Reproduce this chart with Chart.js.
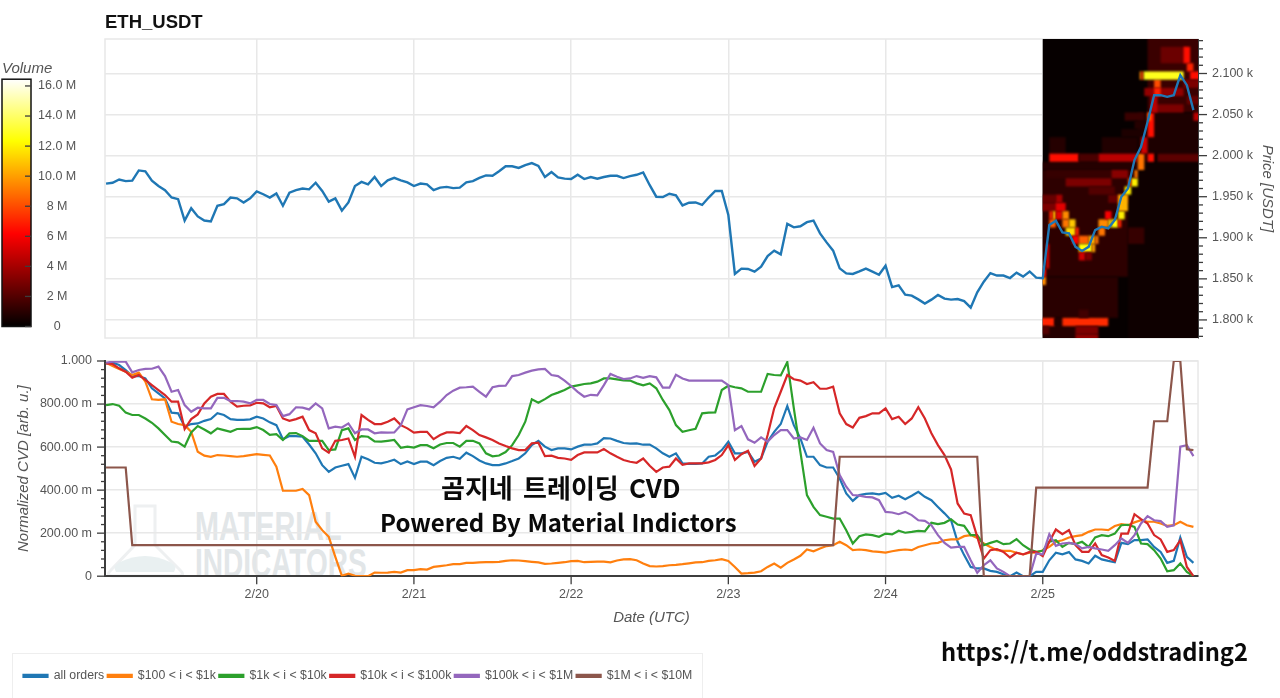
<!DOCTYPE html>
<html lang="ko"><head><meta charset="utf-8">
<style>
html,body{margin:0;padding:0;background:#fff;width:1280px;height:698px;overflow:hidden}
canvas{position:absolute;background:transparent}
.t{position:absolute;white-space:nowrap;font-family:"Noto Sans CJK KR","Noto Sans",sans-serif;font-weight:700;color:#0a0a0a;line-height:1}
.wm{position:absolute;white-space:nowrap;font-family:"Liberation Sans",sans-serif;font-weight:700;color:#e2e6e8;line-height:1;font-size:40px;transform-origin:0 0}
#legendBox{position:absolute;left:12px;top:653px;width:689px;height:60px;border:1px solid #eee;background:#fff}
</style>
<script src="https://cdn.jsdelivr.net/npm/chart.js@4/dist/chart.umd.min.js"></script>
</head><body>
<div id="legendBox"></div>
<svg style="position:absolute;left:0;top:350px" width="200" height="240">
  <path d="M135 156 L155 156 L155 195 L180 220 Q186 226 178 226 L113 226 Q105 226 111 220 L135 195 Z" fill="none" stroke="#eef0f1" stroke-width="3"/>
  <path d="M116 222 Q112 216 120 212 Q145 200 170 212 Q178 216 174 222 Z" fill="#e9f0f1"/>
</svg>
<div class="wm" style="left:195px;top:506px;transform:scaleX(.72)">MATERIAL</div>
<div class="wm" style="left:195px;top:543px;transform:scaleX(.7)">INDICATORS</div>
<canvas id="priceChart" width="1280" height="350" style="left:0;top:0"></canvas>
<canvas id="cvdChart" width="1280" height="348" style="left:0;top:350px"></canvas>
<canvas id="barChart" width="100" height="280" style="left:0;top:58px"></canvas>
<div class="t" style="left:441px;top:474px;font-size:26px;word-spacing:3px">곰지네 트레이딩 CVD</div>
<div class="t" style="left:380px;top:510px;font-size:24px">Powered By Material Indictors</div>
<div class="t" style="left:941px;top:640px;font-size:23.7px">https://t.me/oddstrading2</div>
<script>
const title = 'ETH_USDT';
const firstHour = -23; // hours relative to 2/20 00:00 UTC, one sample per hour
const dateTicks = [0,24,48,72,96,120];
const dateLabels = ['2/20','2/21','2/22','2/23','2/24','2/25'];
const priceTicks = [1800,1850,1900,1950,2000,2050,2100];
const priceLabels = ['1.800 k','1.850 k','1.900 k','1.950 k','2.000 k','2.050 k','2.100 k'];
const cvdTicks = [0,0.2,0.4,0.6,0.8,1];
const cvdLabels = ['0','200.00 m','400.00 m','600.00 m','800.00 m','1.000'];
const volumeTicks = [0,2,4,6,8,10,12,14,16];
const volumeLabels = ['0','2 M','4 M','6 M','8 M','10.0 M','12.0 M','14.0 M','16.0 M'];

const price = [
1966,1967,1971,1969,1969.5,1982,1981,1969.5,1963,1958,
1949,1947,1921,1936,1926,1921,1920,1939,1941,1949,
1948,1943,1948,1956.5,1953,1949,1954,1939,1955,1958,
1960,1959,1967,1957,1944,1948,1933,1943,1963,1968,
1965,1974,1963,1970,1973,1970,1967.5,1963,1966,1965,
1958,1961,1962,1960.5,1961,1967.5,1969,1973,1976,1975.5,
1981,1987,1987,1985,1988.5,1991,1987.5,1974,1980,1973.5,
1972,1971.5,1976.7,1971.5,1974,1972,1974,1975.5,1975.5,1972.7,
1975,1976.7,1979.6,1964,1950,1949.6,1953.6,1951.6,1939.4,1942.7,
1943,1940,1949,1957,1957,1927.7,1856,1862.4,1862,1858.8,
1864.8,1877.8,1884.3,1879.8,1917,1912.7,1914,1919,1921,1905.4,
1894.4,1884.3,1862.8,1856.7,1856,1859,1862.4,1858.8,1855,1866,
1840,1842,1830.8,1829.6,1825,1820,1824.7,1830.4,1826,1824.7,
1825.5,1823,1815,1833.6,1846.6,1857,1854,1854,1851,1857.6,
1852.7,1859,1851.5,1850.7,1915.5,1920.8,1906.6,1905.4,1889,1884,
1889,1909.4,1913.5,1911.5,1921.6,1950,1960,1994.6,2010.8,2041,
2073.6,2073.6,2071.6,2073.6,2098,2085.8,2055.4];

const allOrders = [
.989,.992,.981,.958,.930,.930,.919,.873,.850,.826,
.760,.757,.695,.707,.710,.722,.730,.757,.749,.730,
.726,.726,.729,.741,.733,.715,.702,.636,.651,.651,
.648,.612,.571,.516,.485,.505,.513,.521,.457,.555,
.543,.527,.524,.532,.541,.521,.533,.521,.532,.532,
.516,.535,.550,.555,.546,.574,.558,.538,.524,.516,
.516,.524,.535,.547,.571,.609,.629,.602,.586,.594,
.594,.589,.602,.611,.611,.617,.642,.640,.629,.619,
.616,.617,.611,.612,.594,.571,.555,.571,.524,.522,
.522,.524,.555,.561,.586,.625,.571,.571,.578,.532,
.547,.625,.671,.707,.791,.702,.640,.555,.555,.516,
.505,.505,.454,.385,.350,.377,.383,.385,.380,.387,
.364,.374,.358,.374,.392,.369,.353,.322,.292,.260,
.160,.098,.043,.036,.036,.025,.020,.009,0,.017,
0,0,.020,.020,.074,.109,.102,.112,.078,.071,
.059,.095,.078,.071,.065,.155,.149,.168,.168,.171,
.136,.113,.062,.071,.180,.090,.062];

const orders100to1k = [
.992,.977,.963,.950,.935,.946,.904,.822,.819,.822,
.718,.707,.702,.671,.578,.560,.555,.563,.561,.558,
.555,.558,.563,.567,.564,.561,.509,.397,.397,.397,
.405,.377,.253,.214,.183,.090,.002,.012,.002,0,
0,.017,.016,.017,.020,.017,.028,.028,.033,.031,
.043,.047,.051,.056,.056,.062,.062,.064,.065,.065,
.067,.071,.074,.073,.070,.067,.064,.057,.059,.062,
.065,.070,.071,.065,.067,.068,.068,.064,.073,.078,
.079,.074,.059,.047,.045,.047,.051,.053,.056,.060,
.064,.065,.071,.074,.079,.071,.043,.012,.014,.017,
.023,.043,.059,.040,.062,.078,.095,.124,.116,.129,
.140,.144,.160,.144,.121,.124,.121,.115,.113,.110,
.116,.121,.124,.121,.136,.144,.152,.155,.167,.171,
.171,.186,.191,.178,.152,.136,.121,.118,.118,.109,
.102,.109,.109,.121,.136,.160,.167,.180,.186,.191,
.206,.217,.217,.214,.233,.242,.237,.250,.260,.253,
.253,.245,.234,.237,.253,.237,.229];

const orders1kto10k = [
.795,.800,.792,.760,.749,.749,.733,.713,.687,.656,
.626,.622,.602,.668,.698,.682,.664,.687,.679,.671,
.684,.685,.685,.693,.679,.657,.660,.633,.664,.665,
.651,.629,.629,.629,.586,.589,.679,.687,.633,.651,
.648,.626,.625,.629,.633,.597,.602,.598,.609,.609,
.595,.612,.619,.619,.602,.629,.629,.617,.571,.557,
.561,.577,.609,.656,.718,.822,.806,.823,.842,.853,
.865,.881,.887,.893,.896,.904,.919,.919,.915,.910,
.909,.896,.887,.896,.873,.819,.772,.702,.671,.678,
.685,.757,.760,.761,.865,.885,.878,.873,.857,.857,
.857,.940,.935,.933,.995,.780,.578,.377,.322,.284,
.276,.268,.268,.214,.152,.186,.194,.191,.183,.198,
.194,.211,.202,.206,.211,.208,.248,.242,.248,.264,
.240,.234,.191,.191,.144,.155,.164,.149,.152,.172,
.144,.124,.113,.118,.160,.167,.136,.155,.149,.160,
.136,.180,.191,.186,.198,.237,.239,.229,.152,.149,
.121,.082,.023,.028,.059,.020,0];

const orders10kto100k = [
.989,.986,.966,.950,.922,.935,.912,.888,.865,.842,
.811,.811,.684,.730,.752,.803,.834,.847,.847,.811,
.788,.792,.794,.806,.803,.785,.791,.733,.722,.730,
.741,.679,.664,.594,.574,.629,.633,.640,.555,.749,
.726,.707,.707,.718,.733,.702,.687,.667,.671,.671,
.637,.656,.668,.668,.665,.698,.679,.656,.645,.633,
.617,.605,.594,.586,.586,.617,.620,.558,.560,.550,
.547,.541,.563,.575,.575,.575,.591,.571,.555,.540,
.532,.527,.547,.513,.485,.505,.509,.547,.518,.524,
.524,.524,.529,.540,.563,.609,.540,.567,.583,.512,
.547,.656,.780,.857,.935,.915,.909,.893,.901,.871,
.871,.881,.757,.707,.691,.736,.744,.757,.757,.780,
.730,.741,.707,.733,.785,.733,.664,.609,.563,.496,
.338,.291,.284,.183,.082,.121,.126,.113,.087,.109,
.101,.113,.113,.093,.160,.217,.195,.214,.144,.113,
.113,.152,.098,.087,.071,.198,.198,.288,.265,.245,
.191,.171,.113,.121,.167,.043,0];

const orders100kto1M = [
.992,.997,.997,.997,.947,.958,.963,.964,.974,.930,
.857,.865,.795,.764,.783,.780,.780,.829,.829,.814,
.814,.811,.803,.819,.819,.800,.795,.744,.753,.785,
.783,.775,.803,.780,.687,.695,.691,.710,.664,.682,
.682,.664,.668,.667,.668,.702,.775,.785,.795,.791,
.785,.811,.842,.862,.876,.878,.881,.857,.834,.878,
.884,.885,.930,.935,.946,.955,.961,.963,.935,.930,
.909,.884,.857,.834,.843,.840,.888,.940,.927,.916,
.919,.930,.922,.930,.924,.876,.876,.936,.919,.909,
.909,.909,.909,.909,.909,.888,.679,.698,.636,.620,
.645,.625,.656,.679,.679,.640,.645,.633,.690,.617,
.586,.578,.470,.416,.377,.374,.369,.366,.353,.299,
.296,.288,.299,.284,.260,.257,.237,.191,.155,.133,
.136,.136,.074,.016,.051,.074,.036,.020,0,0,
0,0,.105,.102,.195,.141,.152,.155,.149,.129,
.136,.129,.124,.118,.144,.175,.155,.191,.245,.279,
.260,.256,.229,.236,.602,.609,.558];

const orders1Mto10M = [
.505,.505,.505,.505,.144,.144,.144,.144,.144,.144,
.144,.144,.144,.144,.144,.144,.144,.144,.144,.144,
.144,.144,.144,.144,.144,.144,.144,.144,.144,.144,
.144,.144,.144,.144,.144,.144,.144,.144,.144,.144,
.144,.144,.144,.144,.144,.144,.144,.144,.144,.144,
.144,.144,.144,.144,.144,.144,.144,.144,.144,.144,
.144,.144,.144,.144,.144,.144,.144,.144,.144,.144,
.144,.144,.144,.144,.144,.144,.144,.144,.144,.144,
.144,.144,.144,.144,.144,.144,.144,.144,.144,.144,
.144,.144,.144,.144,.144,.144,.144,.144,.144,.144,
.144,.144,.144,.144,.144,.144,.144,.144,.144,.144,
.144,.144,.555,.555,.555,.555,.555,.555,.555,.555,
.555,.555,.555,.555,.555,.555,.555,.555,.555,.555,
.555,.555,.555,.555,0,0,0,0,0,0,
0,0,.412,.412,.412,.412,.412,.412,.412,.412,
.412,.412,.412,.412,.412,.412,.412,.412,.412,.412,
.720,.720,.720,1,1,.590,.586];

const seriesNames = ['all orders','$100 < i < $1k','$1k < i < $10k','$10k < i < $100k','$100k < i < $1M','$1M < i < $10M'];
const seriesColors = ['#1f77b4','#ff7f0e','#2ca02c','#d62728','#9467bd','#8c564b'];
const seriesValues = [allOrders,orders100to1k,orders1kto10k,orders10kto100k,orders100kto1M,orders1Mto10M];

// order-book heat cells: start hour, end hour, low price, high price, volume (M)
const heatCells = [
[118,146,1760,2150,.15],[133,146,1760,1992.5,.35],[136,146,2052.5,2150,1.4],[138,142,2112.5,2132.5,2.6],
[134.5,146,2002.5,2052.5,.7],[118,133,1852.5,1982.5,1.1],[118,131.5,1802.5,1852.5,1],[118,128,1760,1802.5,.9],
[133,135.5,1892.5,1912.5,1.3],[121,123.5,2002.5,2022.5,.9],[129,134.5,2002.5,2022.5,.8],[132,135,2022.5,2032.5,.7],
[132.5,135.5,2042.5,2052.5,1.4],[134,136,2032.5,2042.5,.9],[118,135,1982.5,1992.5,.9],[120.5,134,1972.5,1982.5,1.3],
[130.5,133,1972.5,1982.5,3.3],[123.5,130.5,1962.5,1972.5,3],[130,133,1942.5,1952.5,2.5],[127,131,1952.5,1962.5,2],
[118,122,1942.5,1952.5,2.5],[118,123,1932.5,1942.5,3],
[121,125.5,1992.5,2002.5,6.5],[125.5,128.5,1992.5,2002.5,1.8],[128.5,134.5,1992.5,2002.5,4.5],[135,136,1992.5,2002.5,1],[136,137,1992.5,2002.5,6.5],[137.5,146,1992.5,2002.5,2.2],
[118,121.8,1792.5,1802.5,7],[121.8,123,1792.5,1802.5,.8],[123,130,1792.5,1802.5,7.2],[118,121,1782.5,1792.5,2],[125,128.5,1782.5,1792.5,3],[125,128.5,1760,1782.5,3.5],[125.5,127,1802.5,1812.5,1.6],
[118,120.5,1842.5,1852.5,9.5],[118,120.5,1852.5,1862.5,6.5],[120.5,121,1862.5,1892.5,5],
[121,122,1912.5,1922.5,8.5],[121.5,122,1922.5,1932.5,11],[121,121.5,1922.5,1932.5,7],[122,123.5,1932.5,1942.5,5.5],[122,123,1942.5,1952.5,4],
[122,123,1922.5,1932.5,5.5],[123,124,1922.5,1932.5,9.5],[123,124,1912.5,1922.5,9],[124,125,1912.5,1922.5,11],[123.5,125,1902.5,1912.5,11.5],[125,125.5,1902.5,1912.5,7],
[124.5,125.5,1892.5,1902.5,6],[125.5,127,1892.5,1902.5,8.5],[125.5,127.5,1882.5,1892.5,12.5],[127.5,128,1882.5,1892.5,10],[127,128,1892.5,1902.5,10.5],[128,128.5,1892.5,1902.5,9],
[125.5,126.5,1872.5,1882.5,5],[126.5,127.5,1872.5,1882.5,3],[128.5,129.5,1902.5,1912.5,9],[128.5,130,1912.5,1922.5,9.5],[129.5,130.5,1922.5,1932.5,6],[130,130.5,1912.5,1922.5,11],
[130.5,131.5,1912.5,1922.5,12.5],[131.5,132,1912.5,1922.5,7],[131.5,132.5,1922.5,1932.5,12],[131.5,133,1932.5,1952.5,10.5],[132.5,133.5,1952.5,1962.5,12],[133.5,134.5,1962.5,1972.5,12],[133,133.5,1962.5,1972.5,8],
[134,134.5,1972.5,1982.5,9],[134.5,135.5,1982.5,2002.5,9],[135,136,2002.5,2022.5,5],[136,137,2022.5,2052.5,6.5],[136,136.5,2042.5,2052.5,9],
[135.5,141.5,2072.5,2082.5,3.5],[136.5,141.5,2052.5,2062.5,3],[137,138,2082.5,2092.5,8],[137,138,2072.5,2082.5,7],[136.5,137.5,2052.5,2072.5,4.5],
[134.8,135.1,2092.5,2102.5,9.5],[135.1,135.4,2092.5,2102.5,7],[135.4,141.5,2092.5,2102.5,12.8],
[141.5,142.5,2112.5,2132.5,6.5],[142,143,2102.5,2112.5,7],[142.5,146,2092.5,2102.5,6.5],[141.5,146,2082.5,2092.5,3],[143,146,2042.5,2052.5,4.5],[142,146,2062.5,2072.5,2.5]
];
const heatStartHour = 120;
const colorStops = [[0,[0,0,0]],[.375,[255,0,0]],[.75,[255,255,0]],[1,[255,255,255]]];
const volumeMax = 16.45;

const points = a => a.map((y,i)=>({x:firstHour+i,y}));
const hourMin = -23.16, hourMax = 143.7;
const FONT = '"Liberation Sans",Arial,sans-serif';
const tickFont = {family:FONT,size:12.5};
const axisTitleFont = {family:FONT,size:15,style:'italic',weight:'normal',lineHeight:1.2};
const INK = '#555', GRID = '#e8e8e8', AXIS = '#3d3d3d';
const near = (v,list)=>list.findIndex(t=>Math.abs(t-v)<1e-6);
const fixSize = (s,w,h)=>{ if(w!=null)s.width=w; if(h!=null)s.height=h;
  s.paddingTop=0;s.paddingBottom=0;s.paddingLeft=0;s.paddingRight=0; };

function heatColor(v){
  const t=Math.min(1,Math.max(0,v/volumeMax));
  for(let i=1;i<colorStops.length;i++){
    if(t<=colorStops[i][0]){
      const [a,ca]=colorStops[i-1],[b,cb]=colorStops[i],f=(t-a)/(b-a);
      return 'rgb('+ca.map((c,k)=>Math.round(c+(cb[k]-c)*f)).join(',')+')';
    }
  }
  return 'rgb(255,255,255)';
}
const framePlugin = {id:'frame',beforeDraw(c){
  const a=c.chartArea,g=c.ctx;g.save();g.strokeStyle=GRID;g.lineWidth=1.5;
  g.strokeRect(a.left,a.top,a.right-a.left,a.bottom-a.top);g.restore();}};
const heatPlugin = {id:'heat',beforeDatasetsDraw(c){
  const a=c.chartArea,g=c.ctx,x=c.scales.x,y=c.scales.y;
  const L=x.getPixelForValue(heatStartHour);
  g.save();g.beginPath();g.rect(L,a.top,a.right-L,a.bottom-a.top);g.clip();
  g.filter='blur(1px)';
  for(const [h0,h1,lo,hi,v] of heatCells){
    g.fillStyle=heatColor(v);
    const X0=x.getPixelForValue(h0),X1=x.getPixelForValue(h1),Y0=y.getPixelForValue(hi),Y1=y.getPixelForValue(lo);
    g.fillRect(X0,Y0,X1-X0,Y1-Y0);
  }
  g.restore();}};
function tickMarks(scale,g,majors,edge,dir,maj,min){
  g.save();g.strokeStyle=AXIS;g.lineWidth=1.3;
  for(const t of scale.ticks){
    const p=scale.getPixelForValue(t.value),len=near(t.value,majors)>=0?maj:min;
    g.beginPath();
    if(scale.isHorizontal()){g.moveTo(p,edge);g.lineTo(p,edge+dir*len);}
    else{g.moveTo(edge,p);g.lineTo(edge+dir*len,p);}
    g.stroke();
  }
  g.restore();
}

new Chart(document.getElementById('priceChart'),{
  type:'line',
  data:{datasets:[{label:'Price',data:points(price),borderColor:'#1f77b4',borderWidth:2.4,pointRadius:0,tension:0}]},
  options:{responsive:false,animation:false,events:[],parsing:{xAxisKey:'x',yAxisKey:'y'},
    layout:{padding:{left:105,top:12,right:0,bottom:12}},
    plugins:{legend:{display:false},tooltip:{enabled:false},
      title:{display:true,text:title,align:'start',color:'#111',font:{family:FONT,size:18.5,weight:'bold',lineHeight:1.2},padding:{top:0,bottom:4.8}}},
    scales:{
      x:{type:'linear',min:hourMin,max:hourMax,afterFit(s){fixSize(s,null,0)},
        border:{display:false},
        grid:{color:GRID,lineWidth:1.5,drawTicks:false},
        ticks:{display:false,stepSize:24,includeBounds:false,autoSkip:false}},
      y:{type:'linear',position:'right',min:1778,max:2142,afterFit(s){fixSize(s,82,null)},
        border:{color:AXIS,width:1},
        grid:{drawTicks:false,lineWidth:1.5,color:c=>near(c.tick.value,priceTicks)>=0?GRID:'rgba(0,0,0,0)'},
        ticks:{stepSize:10,includeBounds:false,autoSkip:false,padding:14,color:INK,font:tickFont,
          callback:v=>{const i=near(v,priceTicks);return i>=0?priceLabels[i]:''}},
        title:{display:true,text:'Price [USDT]',color:INK,font:axisTitleFont,padding:{top:3.6,bottom:0}}}
    }},
  plugins:[framePlugin,heatPlugin,{id:'ticksP',afterDraw(c){
    tickMarks(c.scales.y,c.ctx,priceTicks,c.chartArea.right,1,9,5);}}]
});

new Chart(document.getElementById('cvdChart'),{
  type:'line',
  data:{datasets:seriesValues.map((v,i)=>({label:seriesNames[i],data:points(v),borderColor:seriesColors[i],backgroundColor:seriesColors[i],borderWidth:2.2,pointRadius:0,tension:0,order:6-i}))},
  options:{responsive:false,animation:false,events:[],
    layout:{padding:{left:20,top:11,right:82,bottom:6}},
    plugins:{tooltip:{enabled:false},
      legend:{display:true,position:'bottom',align:'start',
        labels:{boxWidth:24,boxHeight:2,padding:3.5,color:INK,font:{family:FONT,size:12.3},sort:(a,b)=>a.datasetIndex-b.datasetIndex}}},
    scales:{
      x:{type:'linear',min:hourMin,max:hourMax,afterFit(s){fixSize(s,null,90)},
        border:{color:AXIS,width:2},
        grid:{color:GRID,lineWidth:1.5,drawTicks:false},
        ticks:{stepSize:24,includeBounds:false,autoSkip:false,maxRotation:0,padding:11,color:INK,font:tickFont,
          callback:v=>{const i=near(v,dateTicks);return i>=0?dateLabels[i]:''}},
        title:{display:true,text:'Date (UTC)',color:INK,font:axisTitleFont,padding:{top:0,bottom:39}}},
      y:{type:'linear',min:0,max:1,afterFit(s){fixSize(s,85,null)},
        border:{color:AXIS,width:2},
        grid:{drawTicks:false,lineWidth:1.5,color:c=>near(c.tick.value,cvdTicks)>=0?GRID:'rgba(0,0,0,0)'},
        ticks:{stepSize:.04,includeBounds:false,autoSkip:false,padding:13,color:INK,font:tickFont,
          callback:v=>{const i=near(v,cvdTicks);return i>=0?cvdLabels[i]:''}},
        title:{display:true,text:'Normalized CVD [arb. u.]',color:INK,font:axisTitleFont,padding:{top:-5.4,bottom:0}}}
    }},
  plugins:[framePlugin,{id:'ticksC',afterDraw(c){
    tickMarks(c.scales.y,c.ctx,cvdTicks,c.chartArea.left,-1,8,4);
    tickMarks(c.scales.x,c.ctx,dateTicks,c.chartArea.bottom,1,8,8);}}]
});

new Chart(document.getElementById('barChart'),{
  type:'bar',
  data:{labels:['Volume'],datasets:[{data:[[0,volumeMax]],barPercentage:1,categoryPercentage:1,
    backgroundColor(c){
      const a=c.chart.chartArea;if(!a)return '#000';
      const g=c.chart.ctx.createLinearGradient(0,a.bottom,0,a.top);
      colorStops.forEach(([t,rgb])=>g.addColorStop(t,'rgb('+rgb.join(',')+')'));
      return g;}}]},
  options:{responsive:false,animation:false,events:[],
    layout:{padding:{left:2,top:0,right:0,bottom:11.5}},
    plugins:{legend:{display:false},tooltip:{enabled:false},
      title:{display:true,text:'Volume',align:'start',color:INK,font:axisTitleFont,padding:{top:2,bottom:1.2}}},
    scales:{
      x:{display:false},
      y:{position:'right',min:0,max:volumeMax,afterFit(s){fixSize(s,69,null)},
        border:{display:false},grid:{display:false,drawTicks:false},
        afterBuildTicks(s){s.ticks=volumeTicks.map(value=>({value}))},
        ticks:{autoSkip:false,crossAlign:'center',padding:7,color:INK,font:tickFont,
          callback:v=>{const i=near(v,volumeTicks);return i>=0?volumeLabels[i]:''}}}
    }},
  plugins:[{id:'barFrame',afterDatasetsDraw(c){
    const a=c.chartArea,g=c.ctx;g.save();g.strokeStyle='#111';g.lineWidth=1.5;
    g.strokeRect(a.left,a.top,a.right-a.left,a.bottom-a.top);g.restore();
    tickMarks(c.scales.y,g,volumeTicks,a.right,-1,6,6);}}]
});
</script>
</body></html>
